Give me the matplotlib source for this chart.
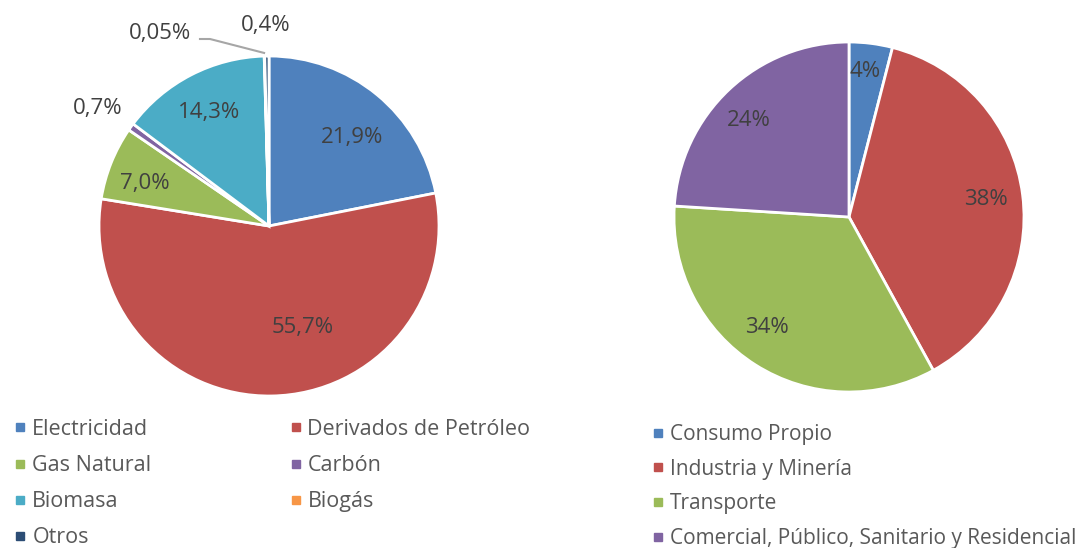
import matplotlib.pyplot as plt
from matplotlib.lines import Line2D

plt.rcParams['font.family'] = ['Open Sans', 'DejaVu Sans']

# left pie: energy sources
fuentes = ['Electricidad', 'Derivados de Petróleo', 'Gas Natural', 'Carbón',
           'Biomasa', 'Biogás', 'Otros']
fuentes_pct = [21.9, 55.7, 7.0, 0.7, 14.3, 0.05, 0.4]
fuentes_txt = ['21,9%', '55,7%', '7,0%', '0,7%', '14,3%', '0,05%', '0,4%']

# right pie: consumption sectors
sectores = ['Consumo Propio', 'Industria y Minería', 'Transporte',
            'Comercial, Público, Sanitario y Residencial']
sectores_pct = [4, 38, 34, 24]
sectores_txt = ['4%', '38%', '34%', '24%']

colors_left = ['#4F81BD', '#C0504D', '#9BBB59', '#8064A2', '#4BACC6', '#F79646', '#2C4D75']
colors_right = ['#4F81BD', '#C0504D', '#9BBB59', '#8064A2']

# label positions (pie radius = 1)
pos_left = [(0.49, 0.52), (0.20, -0.60), (-0.73, 0.25), (-1.01, 0.69),
            (-0.35, 0.67), (-0.64, 1.135), (-0.02, 1.18)]
pos_right = [(0.09, 0.83), (0.78, 0.10), (-0.47, -0.63), (-0.57, 0.55)]

W, H = 1088, 548
fig = plt.figure(figsize=(W / 100, H / 100), dpi=100)

ax1 = fig.add_axes([99 / W, 1 - 396 / H, 340 / W, 340 / H])
ax2 = fig.add_axes([674 / W, 1 - 392 / H, 350 / W, 350 / H])

ax1.pie(fuentes_pct, colors=colors_left, startangle=90, counterclock=False,
        wedgeprops=dict(edgecolor='white', linewidth=2), radius=1)
ax2.pie(sectores_pct, colors=colors_right, startangle=90, counterclock=False,
        wedgeprops=dict(edgecolor='white', linewidth=2), radius=1)

for ax in (ax1, ax2):
    ax.set_xlim(-1, 1)
    ax.set_ylim(-1, 1)
    ax.set_aspect('equal')

for txt, (x, y) in zip(fuentes_txt, pos_left):
    ax1.text(x, y, txt, ha='center', va='center', fontsize=16, color='#404040', clip_on=False)
for txt, (x, y) in zip(sectores_txt, pos_right):
    ax2.text(x, y, txt, ha='center', va='center', fontsize=16, color='#404040', clip_on=False)

# leader line for the 0,05% label
ax1.plot([-0.406, -0.347, -0.029], [1.100, 1.100, 1.018], color='#A6A6A6', lw=1.5, clip_on=False)

def handles(names, colors, order):
    return [Line2D([], [], marker='s', ls='', markersize=6, color=colors[i], label=names[i])
            for i in order]

# legend fills column by column, so reorder to read row by row
fig.legend(handles=handles(fuentes, colors_left, [0, 2, 4, 6, 1, 3, 5]),
           loc='upper left', ncol=2,
           bbox_to_anchor=(14 / W, 1 - 419 / H), frameon=False, fontsize=15.5,
           labelcolor='#595959', handlelength=0.6, handletextpad=0.25,
           labelspacing=0.70, columnspacing=6.4, borderpad=0, borderaxespad=0)
fig.legend(handles=handles(sectores, colors_right, range(4)),
           loc='upper left', ncol=1,
           bbox_to_anchor=(652 / W, 1 - 424 / H), frameon=False, fontsize=15,
           labelcolor='#595959', handlelength=0.6, handletextpad=0.25,
           labelspacing=0.66, borderpad=0, borderaxespad=0)

fig.savefig('out.png', dpi=100)
